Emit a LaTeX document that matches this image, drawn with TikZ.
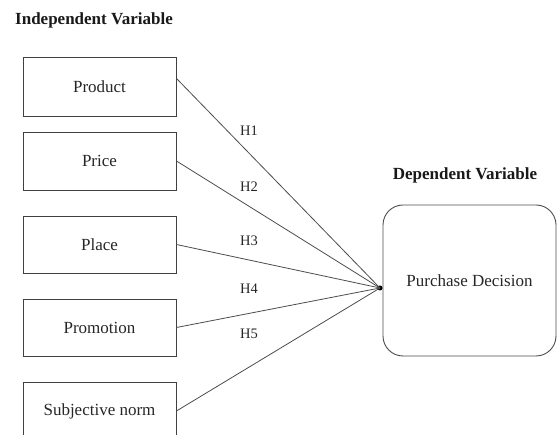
\documentclass[tikz,border=0pt]{standalone}
\usepackage{fontspec}
\setmainfont{Liberation Serif}
\begin{document}
\begin{tikzpicture}[x=1pt,y=-1pt,
  ivbox/.style={draw=black!75, line width=0.9pt, minimum width=153pt, inner sep=0pt, font=\fontsize{17}{20}\selectfont, text=black!85},
  dvbox/.style={draw=black!70, line width=0.9pt, rounded corners=20pt, minimum width=173pt, minimum height=151pt, inner sep=0pt, font=\fontsize{17}{20}\selectfont, text=black!85},
  title/.style={font=\fontsize{17}{20}\selectfont\bfseries, text=black!90, inner sep=0pt},
  hlabel/.style={font=\fontsize{14.5}{17}\selectfont, text=black!85, inner sep=0pt},
  link/.style={draw=black!70, line width=0.8pt},
  hubdot/.style={circle, fill=black, inner sep=0pt, minimum size=5pt}]
\useasboundingbox (0,0) rectangle (558,435);
\clip (0,0) rectangle (558,435);
\node[title, anchor=west] (ivt) at (15,20) {Independent Variable};
\node[title] (dvt) at (465,175) {Dependent Variable};
\node[ivbox, minimum height=59pt] (prod) at (99.5,86.5) {Product};
\node[ivbox, minimum height=58pt] (price) at (99.5,161) {Price};
\node[ivbox, minimum height=57pt] (place) at (99.5,244.5) {Place};
\node[ivbox, minimum height=57pt] (promo) at (99.5,327.5) {Promotion};
\node[ivbox, minimum height=58pt] (subj) at (99.5,411) {Subjective norm};
\node[dvbox] (pd) at (469.5,280.5) {Purchase Decision};
\node[hubdot] (hub) at (380,288) {};
\draw[link] (prod.6) -- (hub.center);
\draw[link] (price.east) -- (hub.center);
\draw[link] (place.east) -- (hub.center);
\draw[link] (promo.east) -- (hub.center);
\draw[link] (subj.east) -- (hub.center);
\node[hlabel] (h1) at (249,131) {H1};
\node[hlabel] (h2) at (249,187) {H2};
\node[hlabel] (h3) at (249,241) {H3};
\node[hlabel] (h4) at (249,289) {H4};
\node[hlabel] (h5) at (249,334) {H5};
\end{tikzpicture}
\end{document}
